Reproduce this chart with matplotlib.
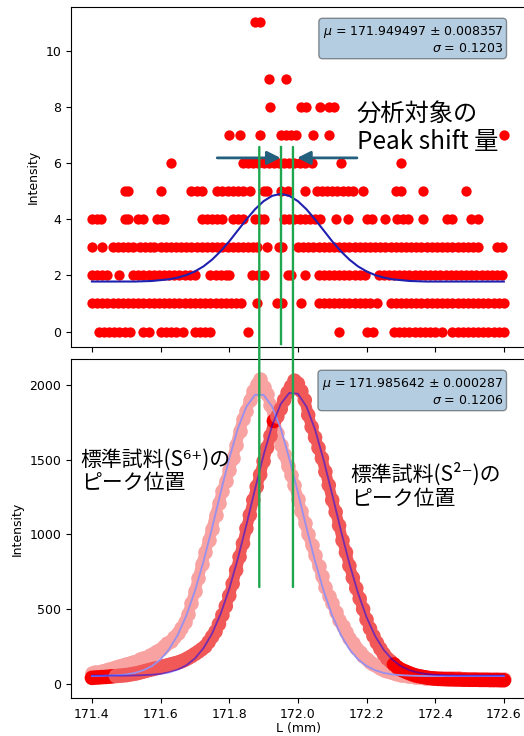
import matplotlib
matplotlib.use("Agg")
import matplotlib.pyplot as plt
import numpy as np
from matplotlib.patches import ConnectionPatch

JP = ["Noto Sans CJK JP", "DejaVu Sans"]

# --- top panel: sample counts, x positions of the dots at each count level ---
ROW0 = [171.42, 171.435, 171.45, 171.465, 171.48, 171.495, 171.51, 171.55, 171.565,
        171.60, 171.615, 171.63, 171.645, 171.665, 171.70, 171.715, 171.73, 171.745,
        171.855, 172.12, 172.20, 172.22,
        172.28, 172.295, 172.31, 172.325, 172.34, 172.355, 172.37, 172.385, 172.40, 172.42,
        172.45, 172.465, 172.48, 172.495, 172.51, 172.525, 172.54, 172.555, 172.57, 172.585,
        172.60]
ROW1 = [171.40, 171.415, 171.43, 171.445, 171.46, 171.475, 171.49, 171.505, 171.52, 171.535,
        171.55, 171.565, 171.58, 171.595, 171.61, 171.625, 171.64, 171.655, 171.67, 171.685,
        171.70, 171.715, 171.73, 171.745, 171.76, 171.775, 171.79, 171.805, 171.82, 171.835,
        171.88, 171.94, 171.955, 172.01,
        172.06, 172.075, 172.09, 172.105, 172.12, 172.135, 172.15, 172.165, 172.18, 172.195,
        172.21, 172.23,
        172.27, 172.285, 172.30, 172.315, 172.33, 172.345, 172.36, 172.375, 172.39, 172.405,
        172.42, 172.435, 172.45, 172.465, 172.48, 172.495, 172.51, 172.525, 172.54, 172.555,
        172.57, 172.585, 172.60]
ROW2 = [171.40, 171.415, 171.43, 171.445, 171.48,
        171.52, 171.535, 171.55, 171.565, 171.58, 171.595, 171.61, 171.625, 171.64, 171.655,
        171.67, 171.685, 171.70, 171.745, 171.76, 171.775, 171.79, 171.80,
        171.865, 171.885, 171.90, 171.97, 171.98, 172.02,
        172.06, 172.075, 172.09, 172.105, 172.12, 172.135, 172.15, 172.165, 172.18, 172.195,
        172.235, 172.25, 172.265, 172.28, 172.295, 172.31, 172.325, 172.34, 172.355, 172.37,
        172.385, 172.40, 172.415, 172.43, 172.445, 172.46, 172.475, 172.49, 172.505, 172.52,
        172.535, 172.55, 172.565, 172.58, 172.595]
ROW3 = [171.40, 171.43, 171.46, 171.475, 171.49, 171.505, 171.52, 171.54, 171.555, 171.57,
        171.58, 171.60, 171.615, 171.63, 171.645, 171.66, 171.675, 171.69, 171.705, 171.72,
        171.735, 171.75, 171.765, 171.78, 171.795, 171.81, 171.825, 171.84, 171.855, 171.87,
        171.88, 171.91, 171.945, 171.955,
        172.00, 172.015, 172.03, 172.045, 172.06, 172.075, 172.09, 172.105, 172.12, 172.135,
        172.15, 172.165, 172.18, 172.195, 172.21, 172.225, 172.24, 172.255, 172.27, 172.285,
        172.30, 172.315, 172.33, 172.345, 172.36, 172.375, 172.39, 172.405, 172.42, 172.435,
        172.45, 172.465, 172.48, 172.495, 172.51, 172.525, 172.58, 172.595]
ROW4 = [171.40, 171.415, 171.425, 171.495, 171.505, 171.535, 171.55, 171.59, 171.605,
        171.61, 171.72, 171.735, 171.75, 171.765, 171.78, 171.81, 171.825, 171.84, 171.875,
        171.89, 171.90, 171.96, 171.975, 171.99, 172.005, 172.02, 172.035, 172.05, 172.065,
        172.11, 172.145, 172.20, 172.215, 172.255, 172.29, 172.305, 172.32, 172.365, 172.435,
        172.45, 172.505, 172.525]
ROW5 = [171.495, 171.505, 171.60, 171.69, 171.705, 171.72, 171.765, 171.78, 171.795,
        171.81, 171.825, 171.84, 171.86, 171.90, 171.91, 171.95, 171.97, 172.02, 172.055,
        172.07, 172.085, 172.10, 172.115, 172.13, 172.145, 172.16, 172.19, 172.285, 172.30,
        172.365, 172.49]
ROW6 = [171.63, 171.84, 171.855, 171.87, 171.885, 171.90, 171.915, 171.93, 171.945, 171.96,
        171.975, 171.99, 172.005, 172.02, 172.04, 172.125, 172.30]
ROW7 = [171.80, 171.83, 171.89, 171.95, 171.965, 171.98, 171.995, 172.045, 172.09, 172.60]
ROW8 = [171.92, 172.01, 172.025, 172.065, 172.09, 172.105]
ROW9 = [171.915, 171.965]
ROW11 = [171.875, 171.89]
TOP_ROWS = [(0, ROW0), (1, ROW1), (2, ROW2), (3, ROW3), (4, ROW4), (5, ROW5),
            (6, ROW6), (7, ROW7), (8, ROW8), (9, ROW9), (11, ROW11)]

# gaussian fit of the top panel, sampled every 0.025 mm
FIT_L = np.linspace(171.40, 172.60, 49)
TOP_FIT = [1.78, 1.78, 1.78, 1.78, 1.78, 1.78, 1.79, 1.80, 1.83, 1.86, 1.92, 2.01, 2.14,
           2.32, 2.56, 2.86, 3.21, 3.60, 3.99, 4.35, 4.64, 4.83, 4.90, 4.83, 4.64, 4.35,
           3.99, 3.60, 3.21, 2.86, 2.56, 2.32, 2.14, 2.01, 1.92, 1.86, 1.83, 1.80, 1.79,
           1.78, 1.78, 1.78, 1.78, 1.78, 1.78, 1.78, 1.78, 1.78, 1.78]

# --- bottom panel: standard samples, one value every 0.01 mm ---
STD_L = np.linspace(171.40, 172.60, 121)
S6_INT = [75, 78, 82, 85, 90, 100, 105, 112, 120, 128,
          135, 140, 148, 155, 163, 172, 182, 192, 205, 220,
          235, 252, 270, 290, 312, 340, 375, 415, 470, 540,
          620, 710, 800, 880, 960, 1040, 1130, 1210, 1290, 1360,
          1430, 1510, 1600, 1690, 1770, 1830, 1900, 1960, 2010, 2040,
          1990, 1940, 1870, 1780, 1680, 1600, 1540, 1460, 1400, 1330,
          1240, 1160, 1080, 1000, 930, 860, 790, 720, 650, 590,
          540, 480, 430, 390, 345, 305, 270, 240, 210, 185,
          165, 148, 132, 118, 105, 95, 88, 80, 72, 66,
          60, 56, 52, 50, 48, 46, 44, 42, 41, 40,
          40, 39, 38, 38, 37, 37, 36, 36, 35, 35,
          34, 34, 34, 33, 33, 33, 32, 32, 32, 31, 31]
S2_INT = [40, 42, 43, 45, 46, 48, 50, 52, 54, 56,
          58, 62, 66, 70, 76, 82, 88, 94, 100, 106,
          112, 118, 124, 130, 136, 142, 150, 160, 172, 185,
          200, 215, 232, 250, 280, 315, 350, 400, 460, 520,
          590, 670, 760, 850, 940, 1040, 1130, 1230, 1320, 1400,
          1490, 1580, 1660, 1760, 1790, 1840, 1900, 1950, 1990, 2030,
          2010, 1960, 1900, 1800, 1720, 1650, 1580, 1510, 1420, 1330,
          1230, 1150, 1060, 960, 880, 790, 710, 640, 570, 500,
          430, 370, 320, 275, 235, 200, 170, 150, 130, 110,
          95, 85, 75, 66, 58, 52, 48, 44, 40, 37,
          35, 33, 32, 31, 30, 30, 29, 29, 28, 28,
          27, 27, 27, 26, 26, 26, 25, 25, 25, 24, 24]
S6_FIT = [52, 53, 55, 58, 63, 73, 91, 119, 164, 232, 328, 457, 622, 820, 1044, 1281, 1509,
          1709, 1856, 1935, 1935, 1856, 1709, 1509, 1281, 1044, 820, 622, 457, 328, 232,
          164, 119, 91, 73, 63, 58, 55, 53, 52, 52, 52, 52, 52, 52, 52, 52, 52, 52]
S2_FIT = [55, 55, 55, 55, 55, 56, 58, 61, 66, 77, 95, 124, 170, 239, 337, 469, 636, 838,
          1065, 1303, 1532, 1730, 1874, 1948, 1942, 1856, 1702, 1498, 1267, 1029, 805, 609,
          446, 320, 227, 162, 118, 91, 75, 65, 60, 57, 56, 55, 55, 55, 55, 55, 55]

TOP_STATS = "$\\mu$ = 171.949497 ± 0.008357\n$\\sigma$ = 0.1203"
BOT_STATS = "$\\mu$ = 171.985642 ± 0.000287\n$\\sigma$ = 0.1206"

# peak positions: S6+ standard, sample under analysis, S2- standard
PEAK_S6, PEAK_SAMPLE, PEAK_S2 = 171.8875, 171.9495, 171.9856
GREEN = "#1fa64e"
ARROW = "#23607e"
SALMON = "#f8a2a2"
RED = "#f15858"

fig = plt.figure(figsize=(5.24, 7.36), dpi=100)
ax1 = fig.add_axes([71 / 524, 1 - 347 / 736, 454.5 / 524, 340 / 736])
ax2 = fig.add_axes([71 / 524, 1 - 698 / 736, 454.5 / 524, 339 / 736], sharex=ax1)

for level, xs in TOP_ROWS:
    ax1.scatter(xs, [level] * len(xs), s=55, color="red", lw=0, zorder=2)
ax1.plot(FIT_L, TOP_FIT, color="#2020b0", lw=1.5, zorder=3)
ax1.set_ylim(-0.55, 11.55)
ax1.set_xlim(171.339, 172.663)
ax1.set_ylabel("Intensity", fontsize=9)
ax1.tick_params(labelsize=9, labelbottom=False)
ax1.text(0.95, 0.95, TOP_STATS, transform=ax1.transAxes, ha="right", va="top", fontsize=9,
         bbox=dict(boxstyle="round", facecolor="steelblue", alpha=0.4), zorder=5)

# where the two standards lie on top of each other the dots look deeper red
s6 = np.array(S6_INT)
s2 = np.array(S2_INT)
s2_colors = np.where(np.abs(s2 - s6) < 60, "#f80000", RED)
# thick band under the dots so the dense point clouds read as one ribbon
ax2.plot(STD_L, s6, color=SALMON, lw=8, solid_capstyle="round", zorder=2)
ax2.scatter(STD_L, s6, s=110, color=SALMON, lw=0, zorder=2)
ax2.plot(STD_L, s2, color=RED, lw=8, solid_capstyle="round", zorder=2)
ax2.scatter(STD_L, s2, s=110, c=s2_colors, lw=0, zorder=2)
ax2.plot(FIT_L, S6_FIT, color="#9890ec", lw=1.3, zorder=3)
ax2.plot(FIT_L, S2_FIT, color="blue", alpha=0.5, lw=1.3, zorder=3)
ax2.set_ylim(-95, 2175)
ax2.set_ylabel("Intensity", fontsize=9)
ax2.set_xlabel("L (mm)", fontsize=9, labelpad=1)
ax2.tick_params(labelsize=9)
ax2.set_xticks([171.4, 171.6, 171.8, 172.0, 172.2, 172.4, 172.6])
ax2.text(0.95, 0.95, BOT_STATS, transform=ax2.transAxes, ha="right", va="top", fontsize=9,
         bbox=dict(boxstyle="round", facecolor="steelblue", alpha=0.4), zorder=5)

# green markers of the peak positions, running over both panels
for peak in (PEAK_S6, PEAK_S2):
    con = ConnectionPatch(xyA=(peak, 6.57), coordsA=ax1.transData,
                          xyB=(peak, 648), coordsB=ax2.transData,
                          color=GREEN, lw=1.7, zorder=6)
    fig.add_artist(con)
ax1.plot([PEAK_SAMPLE, PEAK_SAMPLE], [6.57, -0.46], color=GREEN, lw=1.7,
         clip_on=False, zorder=6)

# peak shift arrows
ax1.annotate("", xy=(PEAK_SAMPLE, 6.18), xytext=(171.765, 6.18),
             arrowprops=dict(arrowstyle="-|>", color=ARROW, lw=2, mutation_scale=20,
                             shrinkA=0, shrinkB=0), zorder=7)
ax1.annotate("", xy=(PEAK_S2, 6.18), xytext=(172.172, 6.18),
             arrowprops=dict(arrowstyle="-|>", color=ARROW, lw=2, mutation_scale=20,
                             shrinkA=0, shrinkB=3), zorder=7)

ax1.text(172.172, 8.2, "分析対象の\nPeak shift 量", family=JP, fontsize=17.5,
         va="top", ha="left", linespacing=1.1, zorder=8)
ax2.text(171.367, 1575, "標準試料(S⁶⁺)の\nピーク位置", family=JP, fontsize=15,
         va="top", ha="left", linespacing=1.1, zorder=8)
ax2.text(172.154, 1481, "標準試料(S²⁻)の\nピーク位置", family=JP, fontsize=15,
         va="top", ha="left", linespacing=1.1, zorder=8)

fig.savefig("out.png", dpi=100)
